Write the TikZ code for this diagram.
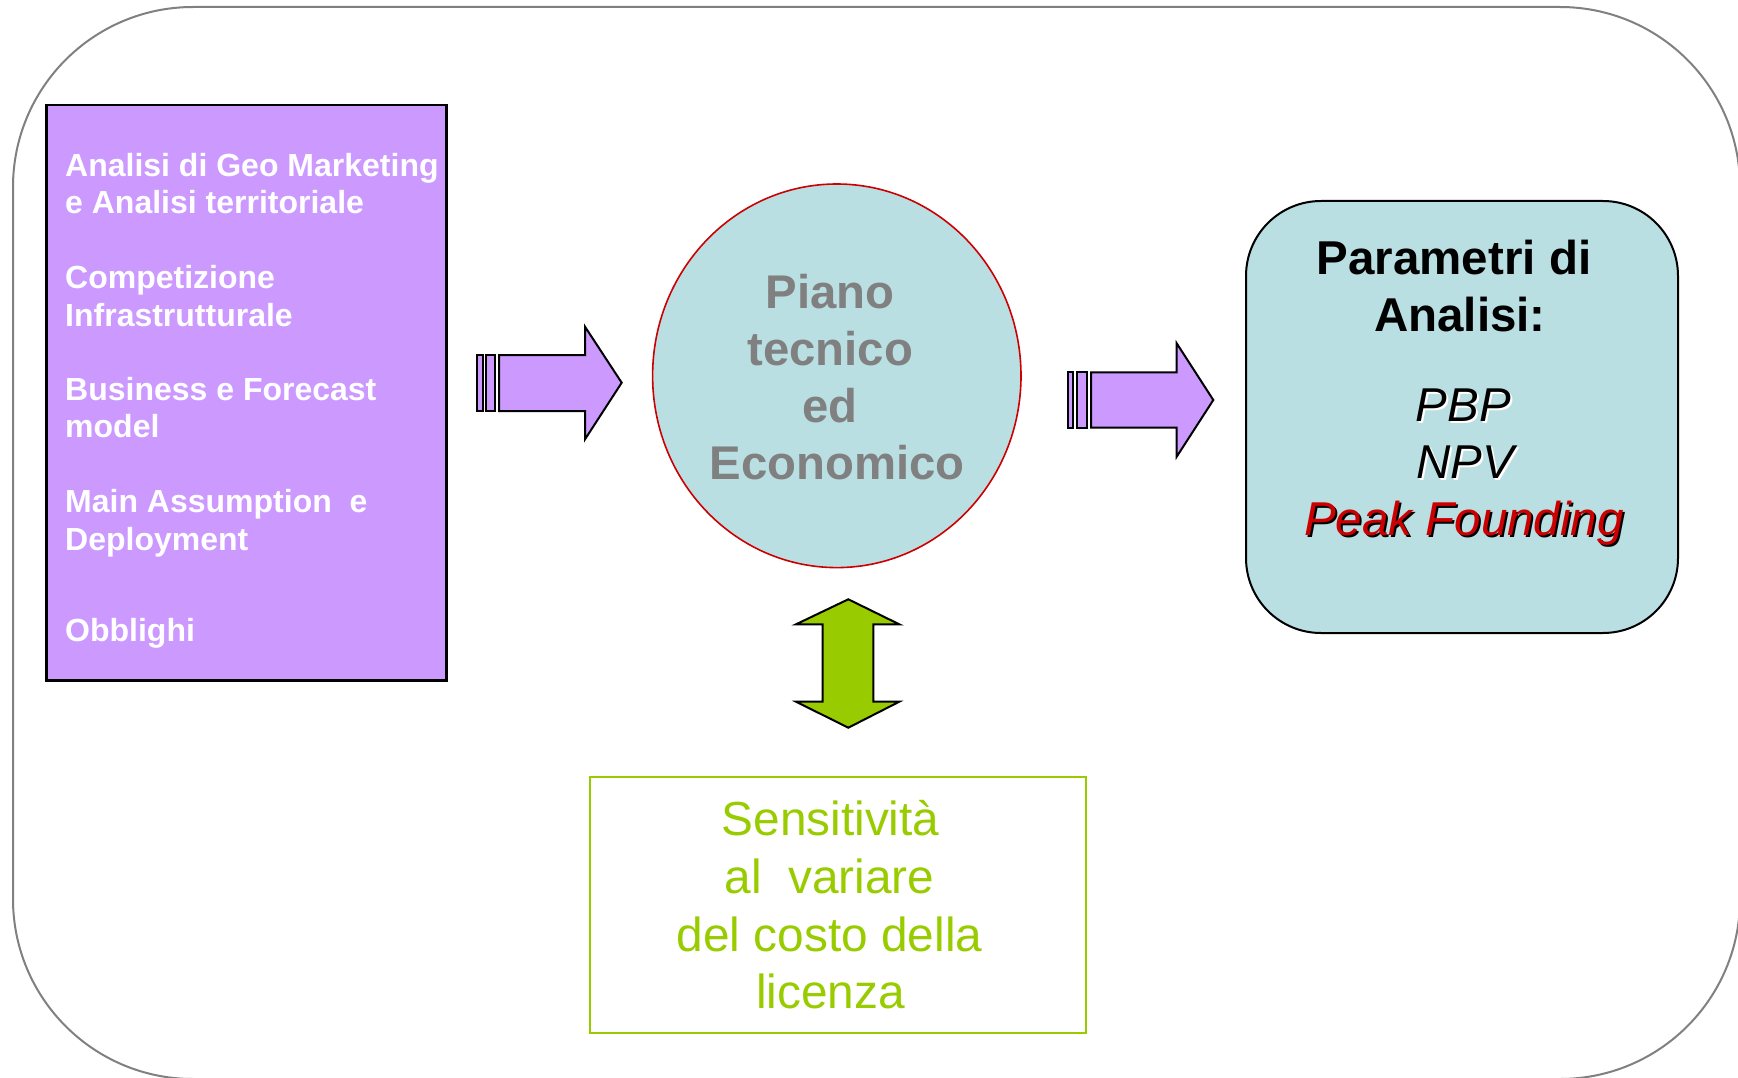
\documentclass[tikz,border=0pt]{standalone}
\usepackage{fontspec}
\setmainfont{Liberation Sans}
\usetikzlibrary{shapes.geometric}
\definecolor{lilac}{HTML}{CC99FF}
\definecolor{paleblue}{RGB}{185,223,227}
\definecolor{limegreen}{HTML}{99CC00}
\definecolor{greytxt}{HTML}{808080}
\definecolor{redtxt}{RGB}{204,0,0}
\begin{document}
\begin{tikzpicture}[x=1pt,y=-1pt,
  lefttxt/.style={anchor=base west, inner sep=0, text=white, font=\fontsize{32}{38}\selectfont\bfseries},
  circtxt/.style={anchor=base, inner sep=0, text=greytxt, font=\fontsize{47.3}{57}\selectfont\bfseries},
  titletxt/.style={anchor=base, inner sep=0, text=black, font=\fontsize{47.5}{57}\selectfont\bfseries},
  paramtxt/.style={anchor=base, inner sep=0, font=\fontsize{47.5}{57}\selectfont\itshape},
  greentxt/.style={anchor=base, inner sep=0, text=limegreen, font=\fontsize{47.8}{57}\selectfont},
  blockarrow/.style={draw=black, line width=2pt, line join=miter},
]
\useasboundingbox (0,0) rectangle (1738,1078);
% outer frame (right and bottom edges fall just outside the picture)
\begin{scope}
\clip (0,0) rectangle (1738,1078);
\draw[greytxt, line width=2pt, rounded corners=180] (13,7) rectangle (1740,1079);
\end{scope}

% input box
\node[draw=black, line width=2.5pt, fill=lilac, anchor=north west, minimum width=400, minimum height=575, inner sep=0] (inputs) at (45,104) {};
\node[lefttxt] (t1a) at (65,176.7) {Analisi di Geo Marketing};
\node[lefttxt] (t1b) at (65,214) {e Analisi territoriale};
\node[lefttxt] (t2a) at (65,288.3) {Competizione};
\node[lefttxt] (t2b) at (65,326) {Infrastrutturale};
\node[lefttxt] (t3a) at (65,400) {Business e Forecast};
\node[lefttxt] (t3b) at (65,437) {model};
\node[lefttxt] (t4a) at (65,512.7) {Main Assumption\ \ e};
\node[lefttxt] (t4b) at (65,550) {Deployment};
\node[lefttxt] (t5) at (65,641.7) {Obblighi};

% left arrow
\draw[blockarrow, fill=lilac] (476.7,355) rectangle (482.7,411);
\draw[blockarrow, fill=lilac] (485.7,355) rectangle (495,411);
\draw[blockarrow, fill=lilac] (499,355) -- (585,355) -- (585,326.7) -- (621.7,382.7) -- (585,439.3) -- (585,411) -- (499,411) -- cycle;

% central ellipse
\node[ellipse, draw=red!80!black, line width=1.6pt, fill=paleblue, minimum width=368.4, minimum height=383.6, inner sep=0] (plan) at (836.8,375.8) {};
\node[circtxt] (c1) at (830.2,308.3) {Piano};
\node[circtxt] (c2) at (830.2,365.3) {tecnico};
\node[circtxt] (c3) at (830.2,422.3) {ed};
\node[circtxt] (c4) at (837,479.5) {Economico};

% right arrow
\draw[blockarrow, fill=lilac] (1068.3,372.3) rectangle (1073.3,427.7);
\draw[blockarrow, fill=lilac] (1077.3,372.3) rectangle (1086.7,427.7);
\draw[blockarrow, fill=lilac] (1091,372.3) -- (1176.7,372.3) -- (1176.7,343.3) -- (1213.3,400) -- (1176.7,456.7) -- (1176.7,427.7) -- (1091,427.7) -- cycle;

% parameters box
\node[draw=black, line width=2pt, fill=paleblue, rounded corners=75, anchor=north west, minimum width=432, minimum height=432, inner sep=0] (params) at (1245,200) {};
\node[titletxt] (p1) at (1454,275) {Parametri di};
\node[titletxt] (p2) at (1460,331.7) {Analisi:};
\node[paramtxt, text=white] (s1) at (1465.5,423.7) {PBP};
\node[paramtxt, text=black] (q1) at (1463.5,421.7) {PBP};
\node[paramtxt, text=white] (s2) at (1467.5,480.3) {NPV};
\node[paramtxt, text=black] (q2) at (1465.5,478.3) {NPV};
\node[paramtxt, text=black] (s3) at (1466,537.7) {Peak Founding};
\node[paramtxt, text=redtxt] (q3) at (1464,535.7) {Peak Founding};

% double arrow
\draw[blockarrow, fill=limegreen] (848.3,599.3) -- (899.3,624.3) -- (873.3,624.3) -- (873.3,701.7) -- (899.3,701.7) -- (848.3,727.7) -- (796,701.7) -- (822.7,701.7) -- (822.7,624.3) -- (796,624.3) -- cycle;

% sensitivity box
\node[draw=limegreen, line width=2pt, anchor=north west, minimum width=496, minimum height=256, inner sep=0] (sens) at (589,776) {};
\node[greentxt] (g1) at (830.5,835) {Sensitività};
\node[greentxt] (g2) at (829.5,893.3) {al\ \ variare};
\node[greentxt] (g3) at (829.5,951.7) {del costo della};
\node[greentxt] (g4) at (830.5,1008.3) {licenza};
\end{tikzpicture}
\end{document}
